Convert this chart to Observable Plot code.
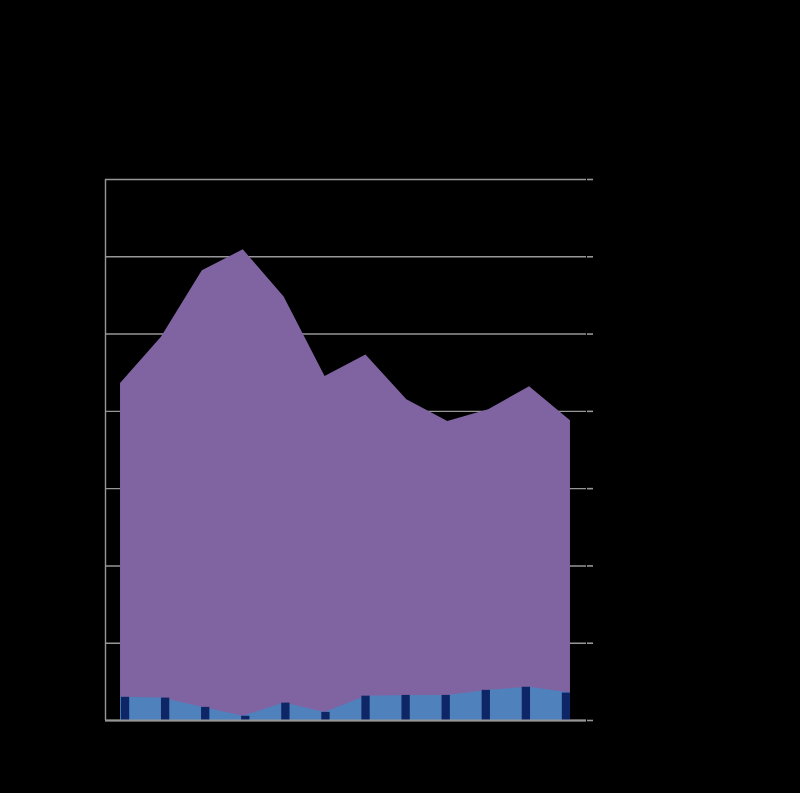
<!DOCTYPE html>
<html>
<head>
<meta charset="utf-8">
<script src="https://cdn.jsdelivr.net/npm/d3@7"></script>
<script src="https://cdn.jsdelivr.net/npm/@observablehq/plot@0.6"></script>
<style>
  html, body { margin: 0; padding: 0; background: #000; }
  #chart svg { display: block; }
</style>
</head>
<body>
<div id="chart"></div>
<script>
// Categories (labels are black on black in the reference)
const categories = ["1", "2", "3", "4", "5", "6", "7", "8", "9", "10", "11", "12"];
// Purple area series
const seriesA = [43.6, 49.6, 58.2, 60.9, 54.8, 44.5, 47.3, 41.5, 38.7, 40.2, 43.2, 38.8];
// Blue area / navy bar series
const seriesB = [3.0, 2.9, 1.7, 0.55, 2.25, 1.05, 3.15, 3.25, 3.25, 3.9, 4.3, 3.55];
// Value axis ticks
const yTicks = [0, 10, 20, 30, 40, 50, 60, 70];

// The area series sits on a secondary category axis that spans slightly
// wider than the bar categories.
const areaStart = 0.375, areaEnd = 11.6;
const n = categories.length;
const data = categories.map((c, i) => ({
  c, i,
  a: seriesA[i],
  b: seriesB[i],
  ax: areaStart + i * (areaEnd - areaStart) / (n - 1)
}));

const chart = Plot.plot({
  width: 800,
  height: 793,
  marginLeft: 105,
  marginRight: 214,
  marginTop: 179,
  marginBottom: 73,
  style: { background: "#000", color: "#000", fontFamily: "Liberation Sans, Arial, sans-serif", fontSize: "12px" },
  x: { domain: [0, n], axis: null },
  y: { domain: [0, 70], axis: null },
  marks: [
    Plot.ruleY(yTicks, { stroke: "#979797", strokeWidth: 1.4 }),
    Plot.areaY(data, { x: "ax", y: "a", fill: "#8064A2" }),
    Plot.areaY(data, { x: "ax", y: "b", fill: "#4F81BD" }),
    Plot.rectY(data, { x1: "i", x2: d => d.i + 1, y: "b", fill: "#0E2566", insetLeft: 15.9, insetRight: 15.9 }),
    Plot.ruleX([0], { stroke: "#979797", strokeWidth: 1.4 }),
    Plot.ruleY([0], { stroke: "#979797", strokeWidth: 2 }),
    Plot.axisY({ anchor: "right", ticks: yTicks, tickSize: 6, tickPadding: 3, stroke: "#979797", strokeWidth: 1.6, fill: "#000", label: null }),
    Plot.text(data, { x: d => d.i + 0.5, y: 0, text: "c", dy: 14, fill: "#000" })
  ]
});

document.getElementById("chart").appendChild(chart);
</script>
</body>
</html>
